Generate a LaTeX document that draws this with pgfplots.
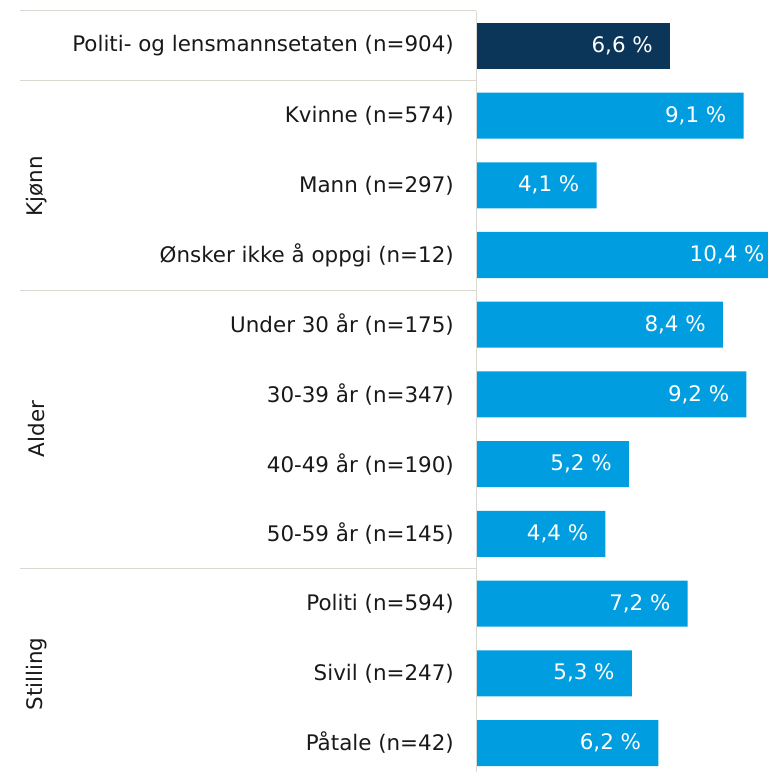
\documentclass[border=0pt]{standalone}
\usepackage{pgfplots}
\pgfplotsset{compat=1.18}
\usepackage{fontspec}
\setmainfont{DejaVu Sans}
\definecolor{navy}{RGB}{12,54,89}
\definecolor{sky}{RGB}{0,158,224}
\definecolor{sep}{RGB}{217,217,210}
\definecolor{txt}{RGB}{25,25,25}
\begin{document}
\begin{tikzpicture}
\useasboundingbox (0,0) rectangle (768bp,772bp);
\begin{axis}[
  at={(476bp,0bp)}, anchor=south west,
  scale only axis, width=292bp, height=761bp,
  xbar, bar width=0.66, /pgf/bar shift=0pt,
  xmin=0, xmax=9.932,
  y dir=reverse, ymin=-0.5, ymax=10.416,
  axis line style={draw=none},
  xtick=\empty,
  ytick={0,...,10},
  yticklabels={Politi- og lensmannsetaten (n=904),Kvinne (n=574),Mann (n=297),Ønsker ikke å oppgi (n=12),Under 30 år (n=175),30-39 år (n=347),40-49 år (n=190),50-59 år (n=145),Politi (n=594),Sivil (n=247),Påtale (n=42)},
  major tick length=0pt,
  y tick label style={anchor=east, inner sep=0pt, xshift=-22bp, font=\fontsize{21.5}{25}\selectfont, text=txt},
  point meta=x,
  nodes near coords={\pgfmathprintnumber[fixed,fixed zerofill,precision=1,use comma,assume math mode=true]{\pgfplotspointmeta}~\%},
  nodes near coords style={anchor=east, xshift=-17bp, text=white, font=\fontsize{21.5}{25}\selectfont, inner sep=0pt},
  clip=false,
]
\addplot[draw=none, fill=navy] coordinates {(6.6,0)};
\addplot[draw=none, fill=sky] coordinates {(9.1,1) (4.1,2) (10.4,3) (8.4,4) (9.2,5) (5.2,6) (4.4,7) (7.2,8) (5.3,9) (6.2,10)};
\end{axis}
\draw[sep, line width=1bp] (20bp,761bp) -- (476bp,761bp);
\draw[sep, line width=1bp] (20bp,691bp) -- (476bp,691bp);
\draw[sep, line width=1bp] (20bp,481bp) -- (476bp,481bp);
\draw[sep, line width=1bp] (20bp,203bp) -- (476bp,203bp);
\draw[sep, line width=1bp] (476bp,0bp) -- (476bp,761bp);
\begin{scope}[every node/.style={rotate=90, text=txt, font=\fontsize{21.5}{25}\selectfont}]
\node at (37bp,586bp) {Kjønn};
\node at (37bp,343bp) {Alder};
\node at (37bp,98bp) {Stilling};
\end{scope}
\end{tikzpicture}
\end{document}
